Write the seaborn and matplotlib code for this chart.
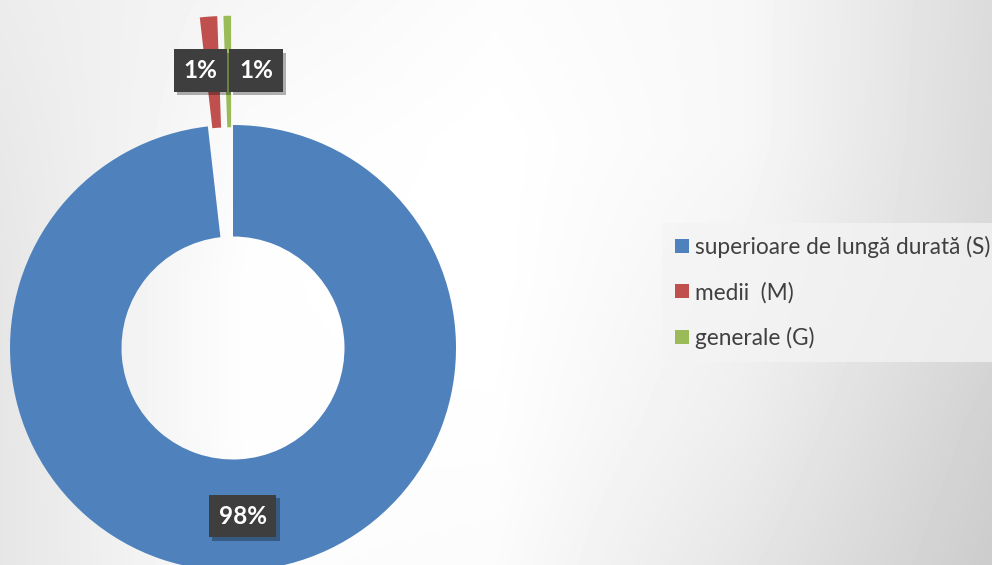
import numpy as np
import matplotlib
matplotlib.use("Agg")
import matplotlib.pyplot as plt
import matplotlib.patheffects as pe
from matplotlib.lines import Line2D
import seaborn as sns

# data
categories = ["superioare de lungă durată (S)", "medii  (M)", "generale (G)"]
shares = [98.2, 1.25, 0.55]
colors = ["#4F81BD", "#C0504D", "#9BBB59"]
explode = [0, 0.49, 0.49]

sns.set_theme(style="white")
plt.rcParams['font.family'] = ['Lato', 'DejaVu Sans']

W, H = 992, 565
fig = plt.figure(figsize=(W / 100, H / 100), dpi=100)

# slide-like soft gradient behind everything
bg = fig.add_axes([0, 0, 1, 1], zorder=-5)
grid = np.array([[0.925, 0.965, 0.99, 0.97, 0.86],
                 [0.91, 0.985, 1.0, 0.97, 0.855],
                 [0.90, 0.995, 1.0, 0.95, 0.85],
                 [0.90, 0.995, 0.995, 0.93, 0.82],
                 [0.90, 0.99, 0.985, 0.90, 0.80]])
bg.imshow(grid, cmap="gray", vmin=0, vmax=1, interpolation="bilinear",
          extent=(-0.125, 1.125, 1.125, -0.125), aspect="auto")
bg.set_xlim(0, 1)
bg.set_ylim(1, 0)
bg.axis("off")

# pie axes: 223 px per unit, centre at (233, 348) px
cx, cy, R = 233, 348, 223
ax = fig.add_axes([0, 0, 2 * cx / W, 1])
ax.patch.set_alpha(0)
fs = 17.5
wedges, texts, autotexts = ax.pie(
    shares, colors=colors, explode=explode, startangle=90, counterclock=False,
    radius=1, wedgeprops=dict(width=0.5, linewidth=0),
    autopct="%.0f%%", pctdistance=0.755,
    textprops=dict(color="white", fontsize=fs, fontweight="bold"))
ax.set_xlim(-cx / R, cx / R)
ax.set_ylim(-(H - cy) / R, cy / R)
ax.set_aspect("auto")

pad = 0.4
pad_px = pad * fs * 100 / 72
box = dict(boxstyle="square,pad=%s" % pad, fc="#3e3e3e", lw=0)
for t in autotexts:
    t.set_bbox(box)

# the two small labels sit side by side above the gap
xg, yg = autotexts[2].get_position()
gap = (pad_px + 1) / R
autotexts[1].set_position((xg - gap, yg))
autotexts[1].set_ha("right")
autotexts[2].set_position((xg + gap, yg))
autotexts[2].set_ha("left")

fig.canvas.draw()
for t in autotexts:
    t.get_bbox_patch().set_path_effects(
        [pe.withSimplePatchShadow(offset=(2.5, -2.5), shadow_rgbFace="black", alpha=0.3),
         pe.Normal()])

handles = [Line2D([], [], marker="s", linestyle="none", markersize=10,
                  markerfacecolor=c, markeredgewidth=0) for c in colors]
lfs = 16.3
px = lfs * 100 / 72
leg = fig.legend(handles, categories, loc="center left",
                 bbox_to_anchor=(662 / W, 1 - 292.5 / H),
                 frameon=True, fancybox=False, fontsize=lfs,
                 borderpad=13 / px, handlelength=14 / px, handletextpad=6 / px,
                 labelspacing=1.05, borderaxespad=0)
leg.get_frame().set_facecolor("#f4f4f4")
leg.get_frame().set_alpha(0.75)
leg.get_frame().set_linewidth(0)
for t in leg.get_texts():
    t.set_color("#404040")

fig.savefig("out.png", dpi=100)
